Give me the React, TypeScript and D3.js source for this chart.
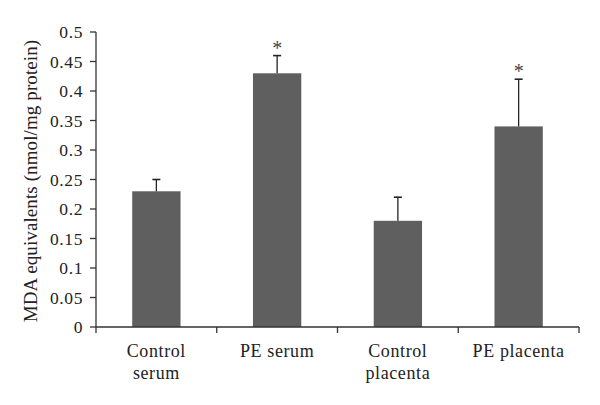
import React from "react";
import * as d3 from "d3";

const categories = ["Control serum", "PE serum", "Control placenta", "PE placenta"];
const labelLines = [["Control", "serum"], ["PE serum"], ["Control", "placenta"], ["PE placenta"]];
const values = [0.23, 0.43, 0.18, 0.34];
const errors = [0.02, 0.03, 0.04, 0.08];
const significant = [false, true, false, true];
const yTicks = [0, 0.05, 0.1, 0.15, 0.2, 0.25, 0.3, 0.35, 0.4, 0.45, 0.5];

export default function App() {
  const W = 600, H = 405;
  const left = 96, right = 579, top = 32, bottom = 327;
  const x = d3.scaleBand<string>().domain(categories).range([left, right]).paddingInner(0.6).paddingOuter(0.3);
  const xb = d3.scaleBand<string>().domain(categories).range([left, right]);
  const y = d3.scaleLinear().domain([0, 0.5]).range([bottom, top]);
  const font = "'Liberation Serif', 'Times New Roman', serif";
  const axisColor = "#333";
  const tickFmt = (d: number) => String(+d.toFixed(2));
  return (
    <svg width={W} height={H} style={{ position: "absolute", left: 0, top: 0, background: "#fff" }}>
      <rect width={W} height={H} fill="#fff" />
      {categories.map((c, i) => {
        const bx = x(c)!;
        const bw = x.bandwidth();
        const cx = bx + bw / 2;
        const yt = y(values[i] + errors[i]);
        return (
          <g key={c}>
            <rect x={bx} y={y(values[i])} width={bw} height={bottom - y(values[i])} fill="#5f5f5f" />
            <line x1={cx} x2={cx} y1={y(values[i])} y2={yt} stroke="#222" strokeWidth={1.3} />
            <line x1={cx - 4} x2={cx + 4} y1={yt} y2={yt} stroke="#222" strokeWidth={1.6} />
            {significant[i] && (
              <text x={cx} y={yt - 1} textAnchor="middle" fontFamily={font} fontSize={20} fill="#444">*</text>
            )}
          </g>
        );
      })}
      <line x1={left} x2={left} y1={top} y2={bottom} stroke={axisColor} strokeWidth={1.3} />
      <line x1={left} x2={right} y1={bottom} y2={bottom} stroke={axisColor} strokeWidth={1.3} />
      {yTicks.map((t) => (
        <g key={t}>
          <line x1={left - 6} x2={left} y1={y(t)} y2={y(t)} stroke={axisColor} strokeWidth={1.3} />
          <text x={left - 13} y={y(t)} dy="0.35em" textAnchor="end" fontFamily={font} fontSize={17.5} letterSpacing={0.6} fill="#222">{tickFmt(t)}</text>
        </g>
      ))}
      {[...categories.map((c) => xb(c)!), right].map((px, i) => (
        <line key={i} x1={px} x2={px} y1={bottom} y2={bottom + 6} stroke={axisColor} strokeWidth={1.3} />
      ))}
      {categories.map((c, i) => (
        <text key={c} x={xb(c)! + xb.bandwidth() / 2} y={357} textAnchor="middle" fontFamily={font} fontSize={18} letterSpacing={0.6} fill="#222">
          {labelLines[i].map((l, j) => (
            <tspan key={j} x={xb(c)! + xb.bandwidth() / 2} dy={j === 0 ? 0 : 21.5}>{l}</tspan>
          ))}
        </text>
      ))}
      <text transform={`translate(37, ${(top + bottom) / 2 + 1.5}) rotate(-90)`} textAnchor="middle" fontFamily={font} fontSize={19} letterSpacing={0.1} fill="#222">
        MDA equivalents (nmol/mg protein)
      </text>
    </svg>
  );
}
